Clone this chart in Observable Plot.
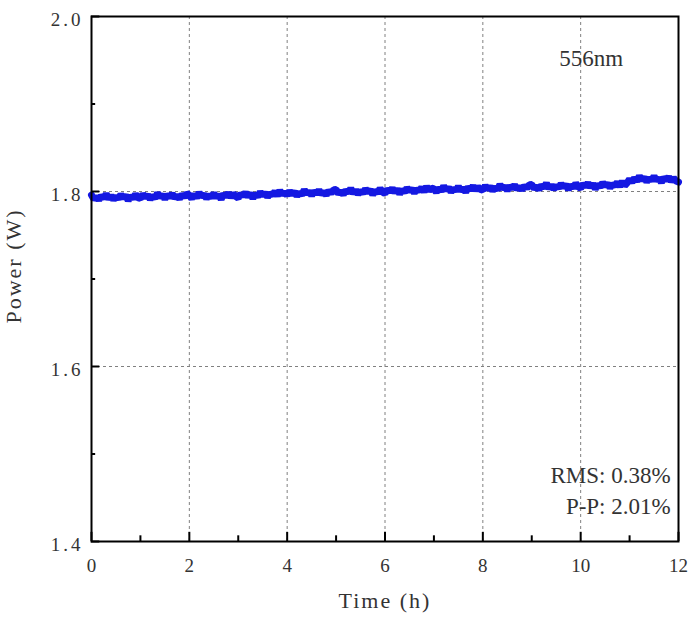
<!DOCTYPE html>
<html>
<head>
<meta charset="utf-8">
<script src="https://cdn.jsdelivr.net/npm/d3@7"></script>
<script src="https://cdn.jsdelivr.net/npm/@observablehq/plot@0.6"></script>
<style>
  html, body { margin: 0; padding: 0; background: #fff; }
  g[aria-label="y-axis tick label"] { letter-spacing: 3px; }
</style>
</head>
<body>
<div id="chart"></div>
<script>
// ---- data ----
const sampleStepHours = 0.05;        // one sample every 3 minutes, 0 … 12 h
const powerW = [
  // 0 h
  1.7960,1.7911,1.7941,1.7902,1.7952,1.7923,1.7973,1.7914,1.7954,1.7905,1.7945,1.7916,1.7966,1.7927,1.7957,1.7898,1.7948,1.7919,1.7969,1.7930,
  // 1 h
  1.7920,1.7970,1.7931,1.7961,1.7911,1.7952,1.7922,1.7982,1.7933,1.7963,1.7913,1.7964,1.7934,1.7974,1.7925,1.7955,1.7915,1.7966,1.7936,1.7977,
  // 2 h
  1.7958,1.7918,1.7969,1.7929,1.7989,1.7940,1.7970,1.7920,1.7961,1.7931,1.7981,1.7932,1.7962,1.7912,1.7973,1.7943,1.7983,1.7934,1.7974,1.7945,
  // 3 h
  1.7925,1.7976,1.7947,1.7988,1.7939,1.7980,1.7921,1.7972,1.7943,1.7994,1.7955,1.7986,1.7937,1.7978,1.7959,1.8000,1.7951,1.8012,1.7963,1.7994,
  // 4 h
  1.7955,1.8006,1.7967,1.7998,1.7948,1.7989,1.7960,1.8021,1.7972,1.8003,1.7954,1.8004,1.7975,1.8016,1.7967,1.7998,1.7959,1.8009,1.7980,1.8021,
  // 5 h
  1.8022,1.7973,1.8003,1.7964,1.8015,1.7985,1.8036,1.7977,1.8017,1.7968,1.8009,1.7979,1.8030,1.7990,1.8021,1.7962,1.8012,1.7983,1.8034,1.7994,
  // 6 h
  1.7975,1.8026,1.7997,1.8037,1.7988,1.8029,1.7970,1.8020,1.7991,1.8042,1.8003,1.8033,1.7984,1.8025,1.8006,1.8046,1.7997,1.8058,1.8009,1.8039,
  // 7 h
  1.8030,1.7991,1.8042,1.8002,1.8063,1.8014,1.8045,1.7995,1.8036,1.8007,1.8058,1.8008,1.8039,1.7990,1.8051,1.8021,1.8062,1.8013,1.8054,1.8024,
  // 8 h
  1.8015,1.8066,1.8026,1.8057,1.8008,1.8049,1.8019,1.8080,1.8031,1.8061,1.8012,1.8063,1.8033,1.8074,1.8025,1.8056,1.8016,1.8067,1.8038,1.8078,
  // 9 h
  1.8079,1.8030,1.8061,1.8021,1.8072,1.8043,1.8094,1.8035,1.8075,1.8026,1.8067,1.8038,1.8089,1.8049,1.8080,1.8021,1.8072,1.8043,1.8093,1.8054,
  // 10 h
  1.8035,1.8086,1.8056,1.8097,1.8048,1.8088,1.8029,1.8080,1.8050,1.8101,1.8062,1.8092,1.8043,1.8084,1.8064,1.8105,1.8056,1.8116,1.8067,1.8098,
  // 11 h … 12 h
  1.8142,1.8104,1.8155,1.8117,1.8178,1.8130,1.8161,1.8112,1.8153,1.8124,1.8175,1.8124,1.8153,1.8102,1.8161,1.8130,1.8168,1.8115,1.8153,1.8120,1.8108
];

const xDomain = [0, 12];
const yDomain = [1.4, 2.0];
const xMajorTicks = [0, 2, 4, 6, 8, 10, 12];
const xMinorTicks = [1, 3, 5, 7, 9, 11];
const yMajorTicks = [1.4, 1.6, 1.8, 2.0];
const yMinorTicks = [1.5, 1.7, 1.9];
const xGrid = [2, 4, 6, 8, 10];
const yGrid = [1.6, 1.8];
const xTitle = "Time (h)";
const yTitle = "Power (W)";
const wavelengthLabel = {text: "556nm", t: 9.56, p: 1.943};
const statsLabels = [
  {text: "RMS: 0.38%", t: 11.84, p: 1.4663},
  {text: "P-P: 2.01%", t: 11.84, p: 1.4320}
];

// ---- build ----
const series = powerW.map((p, i) => ({t: i * sampleStepHours, p}));
const textColor = "#333";
const majorX = 0.17, minorX = 0.085;     // tick lengths in hours (inward)
const majorY = 0.0105, minorY = 0.0065;  // tick lengths in watts (inward)

const chart = Plot.plot({
  width: 689,
  height: 619,
  marginLeft: 91,
  marginRight: 11,
  marginTop: 16,
  marginBottom: 78,
  style: {
    fontFamily: "'Liberation Serif', 'DejaVu Serif', serif",
    fontSize: "19px",
    color: textColor,
    background: "#fff"
  },
  x: {domain: xDomain},
  y: {domain: yDomain},
  marks: [
    Plot.gridX(xGrid, {stroke: "#808080", strokeOpacity: 1, strokeDasharray: "3,3", strokeWidth: 1}),
    Plot.gridY(yGrid, {stroke: "#808080", strokeOpacity: 1, strokeDasharray: "3,3", strokeWidth: 1}),
    Plot.line(series, {x: "t", y: "p", stroke: "#1418e2", strokeWidth: 7, strokeLinejoin: "miter"}),
    // inward ticks
    Plot.ruleX(xMajorTicks, {y1: yDomain[0], y2: yDomain[0] + majorY, stroke: "#000", strokeWidth: 2}),
    Plot.ruleX(xMinorTicks, {y1: yDomain[0], y2: yDomain[0] + minorY, stroke: "#000", strokeWidth: 2}),
    Plot.ruleY(yMajorTicks, {x1: xDomain[0], x2: xDomain[0] + majorX, stroke: "#000", strokeWidth: 2}),
    Plot.ruleY(yMinorTicks, {x1: xDomain[0], x2: xDomain[0] + minorX, stroke: "#000", strokeWidth: 2}),
    Plot.frame({stroke: "#000", strokeWidth: 2}),
    // tick labels
    Plot.axisX({ticks: xMajorTicks, tickSize: 0, tickPadding: 17, tickFormat: d => String(d), label: null, fill: textColor}),
    Plot.axisY({ticks: yMajorTicks, tickSize: 0, tickPadding: 8, tickFormat: d => d.toFixed(1), label: null, fill: textColor, dy: 3}),
    // axis titles
    Plot.text([xTitle], {frameAnchor: "bottom", text: d => d, dy: 66, lineAnchor: "bottom", fontSize: 22, fill: textColor}),
    Plot.text([yTitle], {frameAnchor: "left", textAnchor: "middle", text: d => d, rotate: -90, dx: -71, dy: -13, lineAnchor: "bottom", fontSize: 22, fill: textColor}),
    // annotations
    Plot.text([wavelengthLabel], {x: "t", y: "p", text: "text", textAnchor: "start", lineAnchor: "bottom", fontSize: 23, fill: textColor}),
    Plot.text(statsLabels, {x: "t", y: "p", text: "text", textAnchor: "end", lineAnchor: "bottom", fontSize: 23, fill: textColor})
  ]
});

// widen the axis titles a little, like the reference's monospaced face
d3.select(chart).selectAll("text")
  .filter(function () { return this.textContent === xTitle || this.textContent === yTitle; })
  .style("letter-spacing", "2px");

document.getElementById("chart").appendChild(chart);
</script>
</body>
</html>
